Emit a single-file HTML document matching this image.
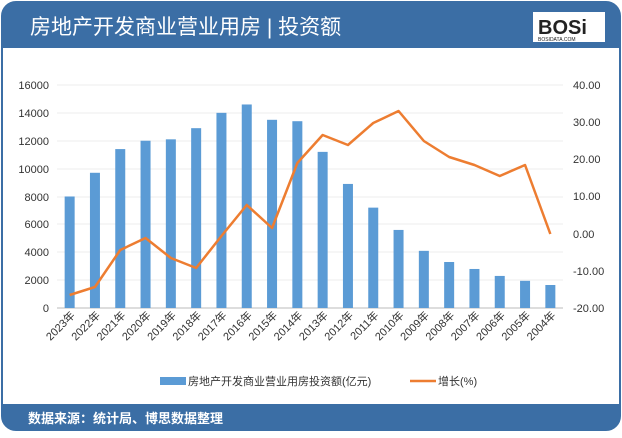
<!DOCTYPE html>
<html><head><meta charset="utf-8"><style>
body{margin:0;background:#fff;width:622px;height:433px;overflow:hidden;font-family:"Liberation Sans","Noto Sans CJK SC",sans-serif}
</style></head><body>
<svg width="622" height="433" xmlns="http://www.w3.org/2000/svg" font-family="Liberation Sans, Noto Sans CJK SC, sans-serif">
<rect x="2" y="2" width="618" height="428" rx="14" fill="#fff" stroke="#3b6ea5" stroke-width="2"/>
<path d="M2 48 V16 a14 14 0 0 1 14 -14 H606 a14 14 0 0 1 14 14 V48 Z" fill="#3b6ea5"/>
<path d="M2 404 H620 V416 a14 14 0 0 1 -14 14 H16 a14 14 0 0 1 -14 -14 Z" fill="#3b6ea5"/>
<text x="30" y="34" font-size="21" fill="#fff">房地产开发商业营业用房 | 投资额</text>
<rect x="533" y="12" width="72" height="30" fill="#fff"/>
<text x="538" y="34" font-size="20" font-weight="bold" fill="#222">BOSi</text>
<text x="538" y="41" font-size="5" fill="#222">BOSIDATA.COM</text>
<text x="28" y="423" font-size="13" fill="#fff" font-weight="bold">数据来源：统计局、博思数据整理</text>
<g stroke="#ececec" stroke-width="1">
<line x1="57" x2="563" y1="85" y2="85"/><line x1="57" x2="563" y1="113" y2="113"/><line x1="57" x2="563" y1="141" y2="141"/><line x1="57" x2="563" y1="169" y2="169"/><line x1="57" x2="563" y1="197" y2="197"/><line x1="57" x2="563" y1="224" y2="224"/><line x1="57" x2="563" y1="252" y2="252"/><line x1="57" x2="563" y1="280" y2="280"/>
</g>
<line x1="57" x2="563" y1="308" y2="308" stroke="#bbb"/>
<g font-size="11" fill="#333" text-anchor="end">
<text x="49" y="89">16000</text><text x="49" y="117">14000</text><text x="49" y="145">12000</text><text x="49" y="173">10000</text><text x="49" y="201">8000</text><text x="49" y="228">6000</text><text x="49" y="256">4000</text><text x="49" y="284">2000</text><text x="49" y="312">0</text>
</g>
<g font-size="11" fill="#333" text-anchor="start">
<text x="573" y="89">40.00</text><text x="573" y="126">30.00</text><text x="573" y="163">20.00</text><text x="573" y="200">10.00</text><text x="573" y="238">0.00</text><text x="573" y="275">-10.00</text><text x="573" y="312">-20.00</text>
</g>
<g fill="#5b9bd5" id="bars"></g>
<g id="labels" font-size="11" fill="#333"></g>
<polyline id="ln" fill="none" stroke="#ed7d31" stroke-width="2.5" stroke-linejoin="round"/>
<rect x="160" y="377" width="26" height="8" fill="#5b9bd5"/>
<text x="188" y="385" font-size="11" fill="#333">房地产开发商业营业用房投资额(亿元)</text>
<line x1="410" x2="436" y1="381" y2="381" stroke="#ed7d31" stroke-width="2.5"/>
<text x="438" y="385" font-size="11" fill="#333">增长(%)</text>
</svg>
<script>
var v=[8000,9700,11400,12000,12100,12900,14000,14600,13500,13400,11200,8900,7200,5600,4100,3300,2800,2300,1950,1650];
var l=[295,287,250,238,258,268,236,205,228,163,135,145,123,111,141,157,165,176,165,234];
var b=document.getElementById('bars'),lb=document.getElementById('labels'),pts=[],ns='http://www.w3.org/2000/svg';
for(var i=0;i<20;i++){var cx=57+25.3*(i+0.5);var h=v[i]*13.94/1000;
var r=document.createElementNS(ns,'rect');r.setAttribute('x',cx-5);r.setAttribute('y',308-h);r.setAttribute('width',10);r.setAttribute('height',h);b.appendChild(r);
var t=document.createElementNS(ns,'text');t.setAttribute('text-anchor','end');t.setAttribute('transform','translate('+(cx+6)+',316) rotate(-45)');t.textContent=(2023-i)+'年';lb.appendChild(t);
pts.push(cx+','+l[i]);}
document.getElementById('ln').setAttribute('points',pts.join(' '));
</script>
</body></html>
